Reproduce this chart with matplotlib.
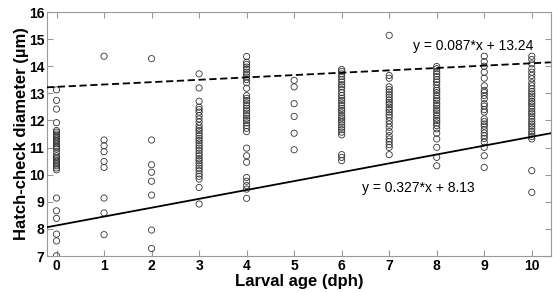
import numpy as np
import matplotlib
matplotlib.use('Agg')
from matplotlib import pyplot as plt

plt.rcParams['font.family'] = ['Liberation Sans', 'DejaVu Sans']

# hatch-check diameter (um) per larval age (dph)
d0 = [13.13, 12.74, 12.42, 11.92, 11.63, 11.57, 11.50, 11.44, 11.38, 11.32, 11.26, 11.20,
      11.14, 11.07, 11.01, 10.95, 10.83, 10.70, 10.64, 10.58, 10.52, 10.46, 10.40, 10.33,
      10.25, 10.18, 9.14, 8.67, 8.39, 7.81, 7.56, 7.01]
d1 = [14.37, 11.28, 11.07, 10.85, 10.49, 10.27, 9.14, 8.59, 7.79]
d2 = [14.28, 11.28, 10.37, 10.09, 9.76, 9.25, 7.96, 7.28]
d3 = [13.72, 13.20, 12.71, 12.49, 12.40, 12.31, 12.18, 12.06, 11.94, 11.81, 11.71, 11.63,
      11.54, 11.44, 11.34, 11.26, 11.17, 11.07, 10.98, 10.89, 10.79, 10.70, 10.60, 10.52,
      10.43, 10.33, 10.24, 10.15, 10.03, 9.94, 9.84, 9.53, 8.92]
d4 = [14.36, 14.15, 14.07, 13.97, 13.88, 13.78, 13.70, 13.60, 13.51, 13.39, 13.19, 12.92,
      12.82, 12.74, 12.65, 12.55, 12.45, 12.36, 12.27, 12.18, 12.08, 12.00, 11.91, 11.81,
      11.71, 11.59, 10.98, 10.70, 10.46, 9.90, 9.76, 9.60, 9.47, 9.13]
d5 = [13.48, 13.24, 12.62, 12.15, 11.53, 10.92]
d6 = [13.88, 13.81, 13.72, 13.62, 13.51, 13.42, 13.32, 13.24, 13.14, 13.03, 12.92, 12.82,
      12.74, 12.65, 12.55, 12.45, 12.37, 12.28, 12.18, 12.10, 12.02, 11.94, 11.84, 11.75,
      11.66, 11.57, 11.47, 10.74, 10.64, 10.52]
d7 = [15.14, 13.66, 13.56, 13.24, 13.14, 13.05, 12.95, 12.86, 12.76, 12.67, 12.59, 12.49,
      12.40, 12.31, 12.21, 12.12, 11.99, 11.87, 11.75, 11.59, 11.44, 11.32, 11.22, 11.11,
      11.01, 10.74]
d8 = [13.99, 13.91, 13.81, 13.72, 13.62, 13.51, 13.42, 13.32, 13.19, 13.11, 13.03, 12.92,
      12.82, 12.74, 12.64, 12.55, 12.45, 12.37, 12.28, 12.18, 12.08, 12.00, 11.91, 11.81,
      11.69, 11.53, 11.32, 11.01, 10.64, 10.33]
d9 = [14.37, 14.17, 14.00, 13.78, 13.56, 13.28, 13.11, 13.03, 12.92, 12.80, 12.62, 12.53,
      12.40, 12.31, 12.06, 11.96, 11.87, 11.79, 11.66, 11.54, 11.44, 11.34, 11.20, 11.01,
      10.70, 10.27]
d10 = [14.37, 14.25, 14.09, 13.91, 13.78, 13.66, 13.54, 13.39, 13.28, 13.17, 13.07, 12.98,
       12.90, 12.80, 12.70, 12.62, 12.53, 12.43, 12.33, 12.25, 12.16, 12.06, 11.96, 11.87,
       11.79, 11.69, 11.59, 11.50, 11.41, 11.32, 10.15, 9.35]
ages = list(range(11))
diam = [d0, d1, d2, d3, d4, d5, d6, d7, d8, d9, d10]

# fitted lines
lo_slope, lo_icpt = 0.327, 8.13
hi_slope, hi_icpt = 0.087, 13.24

fig = plt.figure(figsize=(5.53, 2.93), dpi=100)
ax = fig.add_axes([0.085, 0.126, 0.911, 0.833])

for a, d in zip(ages, diam):
    ax.scatter([a] * len(d), d, s=20, facecolors='none', edgecolors='#333333', linewidths=0.6, zorder=2)

xl = np.array([-0.2, 10.4])
ax.plot(xl, lo_slope * xl + lo_icpt, color='black', lw=1.3, zorder=3)
ax.plot(xl, hi_slope * xl + hi_icpt, color='black', lw=1.3, ls=(0, (4, 2)), zorder=3)

ax.text(7.5, 14.74, 'y = 0.087*x + 13.24', fontsize=10, va='center', ha='left')
ax.text(6.42, 9.5, 'y = 0.327*x + 8.13', fontsize=10, va='center', ha='left')

ax.set_xlim(xl)
ax.set_ylim(7, 16)
ax.set_xticks(ages)
ax.set_yticks(range(7, 17))
ax.tick_params(direction='in', top=True, right=True, length=4, color='#999999', labelsize=10, pad=2)
for lab in ax.get_xticklabels() + ax.get_yticklabels():
    lab.set_fontweight('bold')
for sp in ax.spines.values():
    sp.set_color('#999999')

ax.set_xlabel('Larval age (dph)', fontsize=12, fontweight='bold', labelpad=1)
ax.set_ylabel('Hatch-check diameter (µm)', fontsize=12, fontweight='bold', labelpad=0)

plt.savefig('out.png', dpi=100)
